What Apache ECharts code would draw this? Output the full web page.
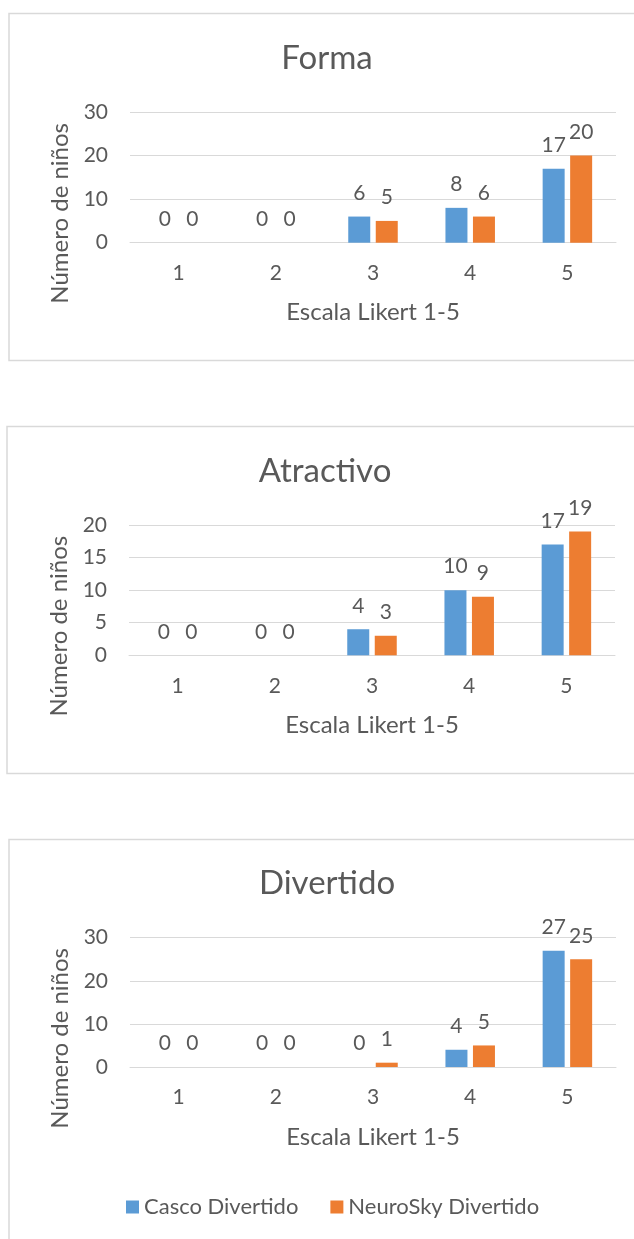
<!DOCTYPE html>
<html>
<head>
<meta charset="utf-8">
<title>Forma, Atractivo, Divertido</title>
<script src="https://cdn.jsdelivr.net/npm/echarts@6/dist/echarts.min.js"></script>
<style>
	html, body { margin: 0; padding: 0; background: #fff; }
	#chart { width: 634px; height: 1239px; }
</style>
</head>
<body>
<div id="chart"></div>
<script>
// Likert scale categories
var categories = ['1', '2', '3', '4', '5'];

// Forma
var formaCasco = [0, 0, 6, 8, 17];
var formaNeuro = [0, 0, 5, 6, 20];

// Atractivo
var atractivoCasco = [0, 0, 4, 10, 17];
var atractivoNeuro = [0, 0, 3, 9, 19];

// Divertido
var divertidoCasco = [0, 0, 0, 4, 27];
var divertidoNeuro = [0, 0, 1, 5, 25];

var titles = ['Forma', 'Atractivo', 'Divertido'];
var yMax = [30, 20, 30];
var yStep = [10, 5, 10];
var legendNames = ['Casco Divertido', 'NeuroSky Divertido'];

var BLUE = '#5B9BD5';
var ORANGE = '#ED7D31';
var TEXT = '#595959';
var LINE = '#D9D9D9';
var FONT = 'Lato';

// panel layout (px)
var panels = [
	{ top: 112, height: 130.7, left: 130, width: 486, titleX: 327, titleY: 58, box: [9, 13.5, 700, 347] },
	{ top: 525, height: 130.3, left: 129, width: 486, titleX: 325, titleY: 471, box: [7, 426.5, 700, 347] },
	{ top: 937.7, height: 129.3, left: 130, width: 486, titleX: 327, titleY: 883, box: [9, 839.5, 700, 500] }
];

var chart = echarts.init(document.getElementById('chart'), null, { renderer: 'canvas' });

var grids = [], xAxes = [], yAxes = [], titleList = [], boxes = [];

panels.forEach(function(p, i) {
	grids.push({ left: p.left, top: p.top, width: p.width, height: p.height, containLabel: false });

	titleList.push({
		text: titles[i],
		left: p.titleX,
		top: p.titleY,
		textAlign: 'center',
		textVerticalAlign: 'middle',
		padding: 0,
		textStyle: { fontFamily: FONT, fontSize: 33, fontWeight: 'normal', color: TEXT }
	});

	xAxes.push({
		type: 'category',
		gridIndex: i,
		data: categories,
		name: 'Escala Likert 1-5',
		nameLocation: 'middle',
		nameGap: 58,
		nameTextStyle: { fontFamily: FONT, fontSize: 24, color: TEXT },
		axisLine: { lineStyle: { color: LINE, width: 1 } },
		axisTick: { show: false },
		axisLabel: { margin: 20, fontFamily: FONT, fontSize: 21, color: TEXT }
	});

	yAxes.push({
		type: 'value',
		gridIndex: i,
		min: 0,
		max: yMax[i],
		interval: yStep[i],
		name: 'Número de niños',
		nameLocation: 'middle',
		nameGap: 58,
		nameTextStyle: { fontFamily: FONT, fontSize: 24, color: TEXT, padding: [0, 72, 0, 0] },
		axisLine: { show: false },
		axisTick: { show: false },
		axisLabel: { margin: 22, fontFamily: FONT, fontSize: 21, color: TEXT },
		splitLine: { lineStyle: { color: LINE, width: 1 } }
	});

	boxes.push({
		type: 'rect',
		shape: { x: p.box[0], y: p.box[1], width: p.box[2], height: p.box[3] },
		style: { fill: 'none', stroke: LINE, lineWidth: 1.5 },
		silent: true,
		z: -1
	});
});

function barSeries(name, data, color, idx) {
	return {
		type: 'bar',
		name: name,
		xAxisIndex: idx,
		yAxisIndex: idx,
		data: data,
		barWidth: 22,
		barGap: '25%',
		itemStyle: { color: color },
		label: {
			show: true,
			position: 'top',
			distance: 13,
			fontFamily: FONT,
			fontSize: 21,
			color: TEXT
		}
	};
}

var series = [
	barSeries('Casco Forma', formaCasco, BLUE, 0),
	barSeries('NeuroSky Forma', formaNeuro, ORANGE, 0),
	barSeries('Casco Atractivo', atractivoCasco, BLUE, 1),
	barSeries('NeuroSky Atractivo', atractivoNeuro, ORANGE, 1),
	barSeries(legendNames[0], divertidoCasco, BLUE, 2),
	barSeries(legendNames[1], divertidoNeuro, ORANGE, 2)
];

chart.setOption({
	animation: false,
	backgroundColor: '#fff',
	title: titleList,
	grid: grids,
	xAxis: xAxes,
	yAxis: yAxes,
	legend: {
		data: legendNames,
		left: 126,
		top: 1196,
		padding: 0,
		icon: 'rect',
		itemWidth: 13,
		itemHeight: 13,
		itemGap: 32,
		textStyle: { fontFamily: FONT, fontSize: 22, color: TEXT }
	},
	graphic: boxes,
	series: series
});
</script>
</body>
</html>
